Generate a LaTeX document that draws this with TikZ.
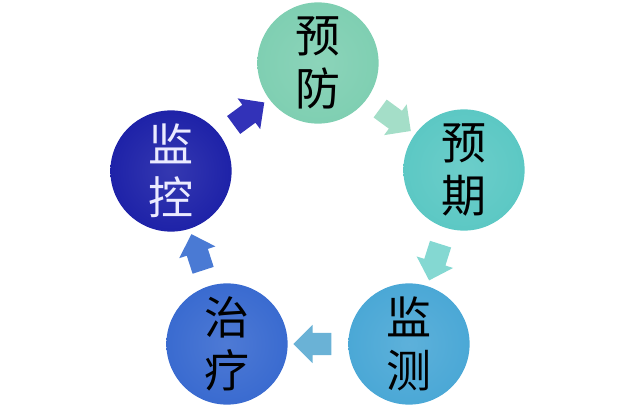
\documentclass[tikz,border=0pt]{standalone}
\usepackage{fontspec}
\newfontfamily\cjk{Noto Sans CJK SC}
\usepackage{tikz}
\usetikzlibrary{shapes.arrows}
\definecolor{yfC}{HTML}{7FCFB2}
\definecolor{yqC}{HTML}{5CC8C4}
\definecolor{jcC}{HTML}{4BA8D6}
\definecolor{zlC}{HTML}{3A6BD0}
\definecolor{jkC}{HTML}{1E22A8}
\definecolor{aOne}{HTML}{3232B8}
\definecolor{aTwo}{HTML}{A4DEC8}
\definecolor{aThree}{HTML}{84D8D2}
\definecolor{aFour}{HTML}{6AB2D6}
\definecolor{aFive}{HTML}{4A7AD4}

\begin{document}
\begin{tikzpicture}[x=0.025cm, y=-0.025cm,
  ball/.style={circle, minimum size=3.03cm, inner sep=0pt, align=center,
    font=\cjk\fontsize{32}{38}\selectfont, inner color=#1!90!white, outer color=#1},
  blockarrow/.style={single arrow, draw=none, fill=#1, inner xsep=0pt,
    inner ysep=0.27cm, minimum height=0.95cm, single arrow head extend=0.2cm,
    sloped, allow upside down}]
\path[use as bounding box] (0,0) rectangle (626,406);
\node[ball=yfC] (YF) at (318,63) {预\\防};
\node[ball=yqC] (YQ) at (464,170) {预\\期};
\node[ball=jcC] (JC) at (409,344) {监\\测};
\node[ball=zlC] (ZL) at (227,344) {治\\疗};
\node[ball=jkC, text=white!92!blue] (JK) at (171,171) {监\\控};
\path (JK) -- node[blockarrow=aOne] (A1) {} (YF);
\path (YF) -- node[blockarrow=aTwo] (A2) {} (YQ);
\path (YQ) -- node[blockarrow=aThree] (A3) {} (JC);
\path (JC) -- node[blockarrow=aFour] (A4) {} (ZL);
\path (ZL) -- node[blockarrow=aFive] (A5) {} (JK);
\end{tikzpicture}
\end{document}
